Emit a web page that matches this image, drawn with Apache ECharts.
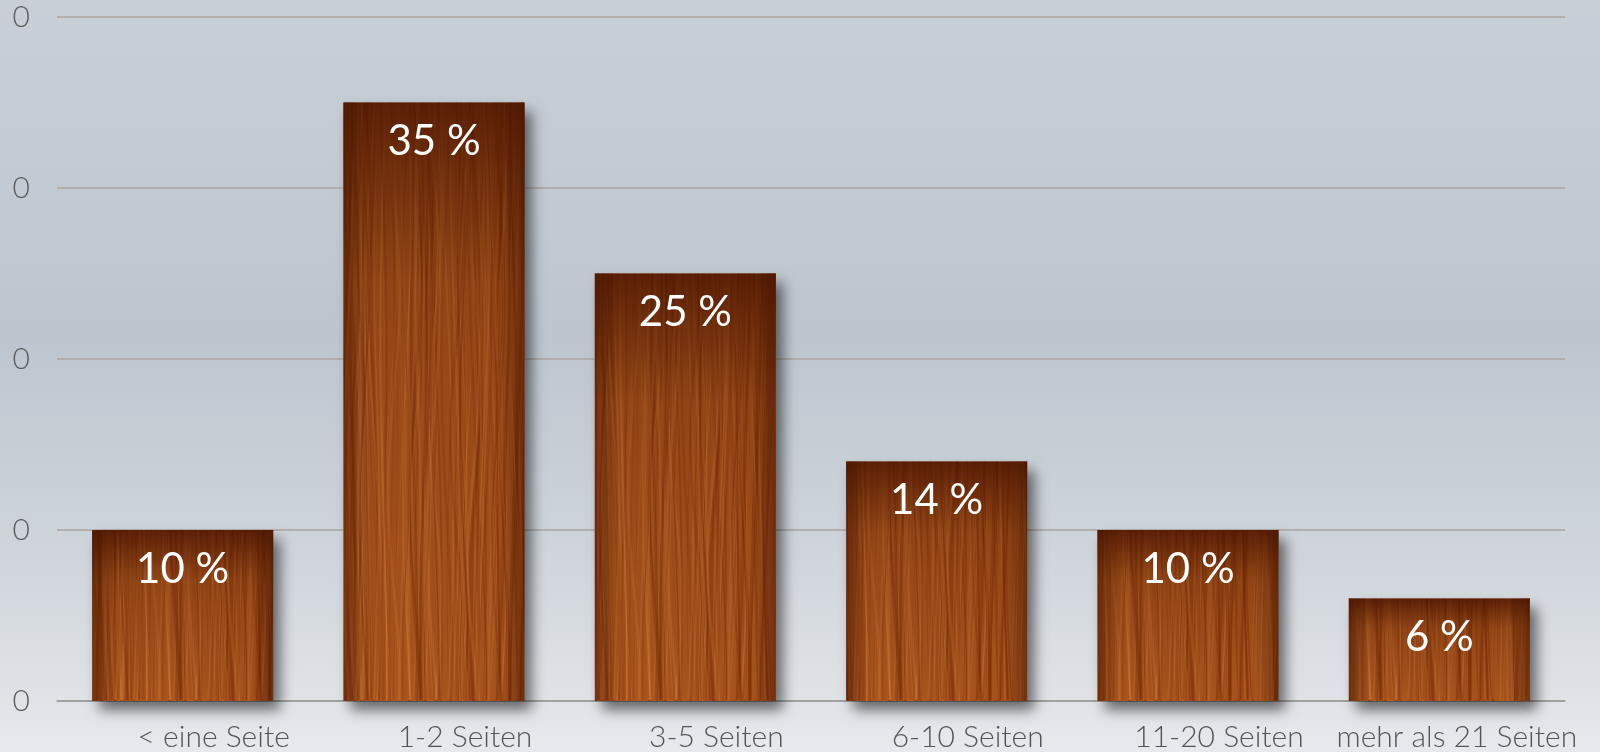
<!DOCTYPE html>
<html>
<head>
<meta charset="utf-8">
<title>Seitenumfang</title>
<script src="https://cdn.jsdelivr.net/npm/echarts@6/dist/echarts.min.js"></script>
<style>
  html, body { margin: 0; padding: 0; }
  #chart { width: 1600px; height: 752px; }
</style>
</head>
<body>
<div id="chart"></div>
<script>
// data
const categories = ['< eine Seite', '1-2 Seiten', '3-5 Seiten', '6-10 Seiten', '11-20 Seiten', 'mehr als 21 Seiten']
const values = [10, 35, 25, 14, 10, 6]
// the y axis of the original shows "0" at every tick
const yTicks = [0, 10, 20, 30, 40]
const yTickLabels = ['0', '0', '0', '0', '0']

// wood grain texture, drawn once on a canvas and used as a pattern fill
function woodTexture() {
  const w = 240, h = 700
  const c = document.createElement('canvas')
  c.width = w
  c.height = h
  const ctx = c.getContext('2d')
  ctx.fillStyle = '#a6531d'
  ctx.fillRect(0, 0, w, h)
  const hash = (n) => {
    const s = Math.sin(n * 12.9898) * 43758.5453
    return s - Math.floor(s)
  }
  for (let i = 0; i < 180; i++) {
    const x0 = hash(i + 1) * w
    const light = hash(i + 50) > 0.5
    const a = 0.1 + hash(i + 99) * 0.22
    ctx.strokeStyle = light ? 'rgba(222,140,70,' + a + ')' : 'rgba(110,35,0,' + a + ')'
    ctx.lineWidth = 0.6 + hash(i + 7) * 2.4
    ctx.beginPath()
    for (let y = 0; y <= h; y += 10) {
      const x = x0 + Math.sin(y / (60 + hash(i + 3) * 90) + i) * (2 + hash(i + 11) * 5)
      if (y === 0) ctx.moveTo(x, y)
      else ctx.lineTo(x, y)
    }
    ctx.stroke()
  }
  return c
}

const chart = echarts.init(document.getElementById('chart'))

const option = {
  backgroundColor: {
    type: 'linear', x: 0, y: 0, x2: 0, y2: 1,
    colorStops: [
      { offset: 0, color: '#c8cfd7' },
      { offset: 0.45, color: '#bdc6cf' },
      { offset: 0.75, color: '#d0d6dc' },
      { offset: 1, color: '#e6e9ed' }
    ]
  },
  animation: false,
  grid: {
    left: 57,
    right: 35,
    top: 17,
    bottom: 51
  },
  xAxis: {
    type: 'category',
    data: categories.map((c, i) => ({
      value: c,
      textStyle: { padding: i === categories.length - 1 ? [0, 0, 0, 35] : [0, 0, 0, 62] }
    })),
    axisLine: { lineStyle: { color: '#9a9a9a', width: 1.5 } },
    axisTick: { show: false },
    axisLabel: {
      interval: 0,
      margin: 21,
      color: '#555',
      fontFamily: 'Lato',
      fontWeight: 300,
      fontSize: 30
    }
  },
  yAxis: {
    type: 'value',
    min: yTicks[0],
    max: yTicks[yTicks.length - 1],
    interval: 10,
    axisLine: { show: false },
    axisTick: { show: false },
    splitLine: { lineStyle: { color: '#aaa6a0', width: 1.5 } },
    axisLabel: {
      margin: 27,
      color: '#5e5e5e',
      fontFamily: 'Lato',
      fontWeight: 300,
      fontSize: 30,
      formatter: (v) => yTickLabels[yTicks.indexOf(v)]
    }
  },
  series: [
    {
      // wood body with drop shadow
      type: 'bar',
      data: values,
      barWidth: 181,
      itemStyle: {
        color: { image: woodTexture(), repeat: 'repeat' },
        shadowBlur: 14,
        shadowOffsetX: 7,
        shadowOffsetY: 9,
        shadowColor: 'rgba(0,0,0,0.55)'
      }
    },
    {
      // darker top of each bar
      type: 'bar',
      data: values,
      barWidth: 181,
      barGap: '-100%',
      silent: true,
      itemStyle: {
        color: {
          type: 'linear', x: 0, y: 0, x2: 0, y2: 1,
          colorStops: [
            { offset: 0, color: 'rgba(70,18,0,0.8)' },
            { offset: 0.3, color: 'rgba(80,25,0,0.25)' },
            { offset: 1, color: 'rgba(120,50,10,0)' }
          ]
        }
      }
    },
    {
      // darker sides
      type: 'bar',
      data: values,
      barWidth: 181,
      barGap: '-100%',
      silent: true,
      itemStyle: {
        color: {
          type: 'linear', x: 0, y: 0, x2: 1, y2: 0,
          colorStops: [
            { offset: 0, color: 'rgba(70,20,0,0.55)' },
            { offset: 0.12, color: 'rgba(70,20,0,0)' },
            { offset: 0.88, color: 'rgba(70,20,0,0)' },
            { offset: 1, color: 'rgba(70,20,0,0.55)' }
          ]
        }
      },
      label: {
        show: true,
        position: 'insideTop',
        distance: 18,
        color: '#fff',
        fontFamily: 'Lato',
        fontSize: 42,
        formatter: (p) => p.value + ' %'
      }
    }
  ]
}

chart.setOption(option)
</script>
</body>
</html>
